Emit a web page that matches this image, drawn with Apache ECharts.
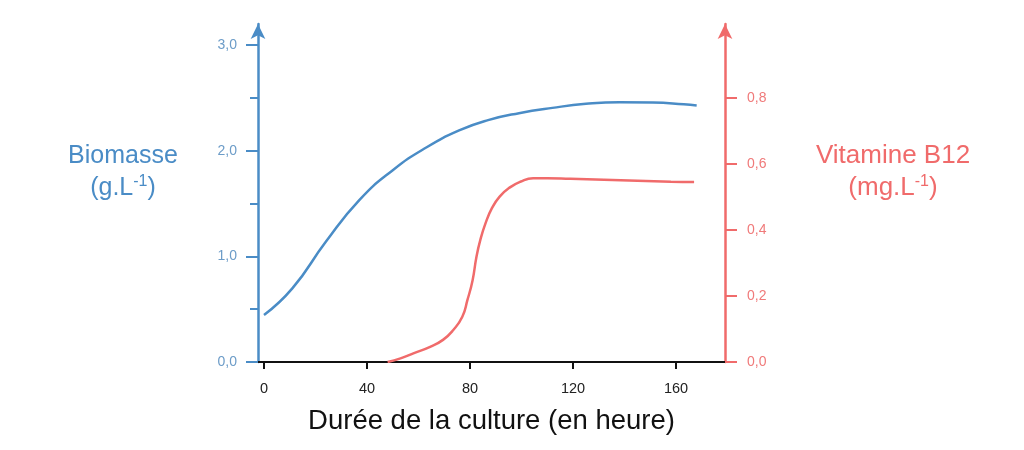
<!DOCTYPE html>
<html>
<head>
<meta charset="utf-8">
<script src="https://cdn.jsdelivr.net/npm/echarts@6/dist/echarts.min.js"></script>
<style>html,body{margin:0;padding:0;background:#fff}#c{width:1024px;height:450px}</style>
</head>
<body>
<div id="c"></div>
<script>
var xTicks = [0, 40, 80, 120, 160];
var biomassTicks = [0, 1, 2, 3];
var biomassMinorTicks = [0.5, 1.5, 2.5];
var b12Ticks = [0, 0.2, 0.4, 0.6, 0.8];

var biomassHours = [0, 11, 24, 37, 50, 63, 76, 87, 99, 112, 125, 138, 151, 163, 168];
var biomassValues = [0.445, 0.697, 1.138, 1.533, 1.816, 2.031, 2.195, 2.29, 2.356, 2.406, 2.444, 2.46, 2.457, 2.44, 2.429];

var b12Hours = [48, 53, 58, 64.5, 69.5, 73.5, 77, 79, 81, 82.5, 84, 86, 88.5, 91.5, 95.5, 99.5, 104.5, 110, 119, 132, 145, 158, 167];
var b12Values = [0, 0.011, 0.026, 0.046, 0.067, 0.097, 0.137, 0.188, 0.248, 0.319, 0.37, 0.42, 0.466, 0.501, 0.529, 0.546, 0.557, 0.557, 0.555, 0.552, 0.549, 0.546, 0.545];

var BLUE = '#4a8cc6';
var BLUE_LBL = '#6c9cc8';
var RED = '#f06b6b';
var RED_LBL = '#f07a7a';
var FONT = 'Liberation Sans, Arial, sans-serif';

function pairs(xs, ys) { return xs.map(function (x, i) { return [x, ys[i]]; }); }
function fmt(v) { return v.toFixed(1).replace('.', ','); }

var chart = echarts.init(document.getElementById('c'));
chart.setOption({
  animation: false,
  textStyle: { fontFamily: FONT },
  grid: { left: 258, right: 299, top: 24, bottom: 88 },
  xAxis: {
    type: 'value', min: -2.33, max: 179,
    splitLine: { show: false },
    axisLine: { onZero: false, lineStyle: { color: '#111', width: 2 } },
    axisTick: { customValues: xTicks, length: 7, lineStyle: { color: '#111', width: 2 } },
    axisLabel: { customValues: xTicks, color: '#222', fontSize: 14.5, margin: 19, fontFamily: FONT },
    name: 'Durée de la culture (en heure)', nameLocation: 'middle', nameGap: 45,
    nameTextStyle: { fontSize: 27.5, color: '#111', fontFamily: FONT }
  },
  yAxis: [
    {
      type: 'value', position: 'left', min: 0, max: 3.2,
      splitLine: { show: false },
      axisLine: { show: true, onZero: false, symbol: ['none', 'arrow'], symbolSize: [11, 15], lineStyle: { color: BLUE, width: 2.5 } },
      axisTick: { show: true, customValues: biomassTicks, length: 12, lineStyle: { color: BLUE, width: 2 } },
      axisLabel: { customValues: biomassTicks, formatter: fmt, color: BLUE_LBL, fontSize: 14, margin: 21, fontFamily: FONT }
    },
    {
      type: 'value', position: 'left', min: 0, max: 3.2,
      splitLine: { show: false },
      axisLine: { show: false, onZero: false },
      axisTick: { show: true, customValues: biomassMinorTicks, length: 8, lineStyle: { color: BLUE, width: 2 } },
      axisLabel: { show: false }
    },
    {
      type: 'value', position: 'right', min: 0, max: 1.024,
      splitLine: { show: false },
      axisLine: { show: true, onZero: false, symbol: ['none', 'arrow'], symbolSize: [11, 15], lineStyle: { color: RED, width: 2.5 } },
      axisTick: { show: true, customValues: b12Ticks, length: 12, lineStyle: { color: RED, width: 2 } },
      axisLabel: { customValues: b12Ticks, formatter: fmt, color: RED_LBL, fontSize: 14, margin: 22, fontFamily: FONT }
    }
  ],
  series: [
    {
      type: 'line', yAxisIndex: 0, data: pairs(biomassHours, biomassValues),
      smooth: 0.5, showSymbol: false,
      lineStyle: { color: BLUE, width: 2.5 }, itemStyle: { color: BLUE }
    },
    {
      type: 'line', yAxisIndex: 2, data: pairs(b12Hours, b12Values),
      smooth: 0.5, showSymbol: false,
      lineStyle: { color: RED, width: 2.5 }, itemStyle: { color: RED }
    }
  ],
  graphic: [
    {
      type: 'text', x: 123, y: 140, style: {
        text: '{t|Biomasse}\n{t|(g.L}{s|-1}{t|)}',
        align: 'center', verticalAlign: 'top', fill: BLUE, font: '25px ' + FONT,
        rich: {
          t: { fontSize: 25, lineHeight: 32, fill: BLUE, fontFamily: FONT },
          s: { fontSize: 16, lineHeight: 32, verticalAlign: 'top', padding: [2, 0, 0, 0], fill: BLUE, fontFamily: FONT }
        }
      }
    },
    {
      type: 'text', x: 893, y: 140, style: {
        text: '{t|Vitamine B12}\n{t|(mg.L}{s|-1}{t|)}',
        align: 'center', verticalAlign: 'top', fill: RED, font: '26px ' + FONT,
        rich: {
          t: { fontSize: 26, lineHeight: 32, fill: RED, fontFamily: FONT },
          s: { fontSize: 16, lineHeight: 32, verticalAlign: 'top', padding: [2, 0, 0, 0], fill: RED, fontFamily: FONT }
        }
      }
    }
  ]
});
</script>
</body>
</html>
